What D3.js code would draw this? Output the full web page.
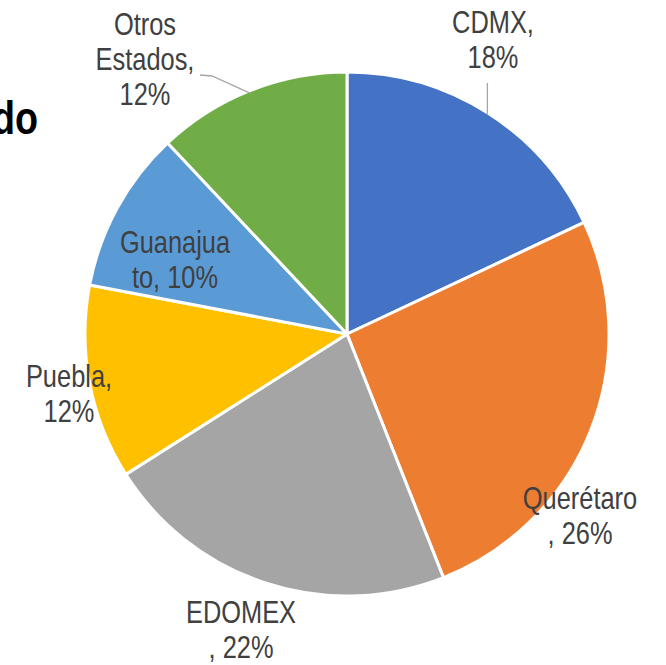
<!DOCTYPE html>
<html>
<head>
<meta charset="utf-8">
<script src="https://cdn.jsdelivr.net/npm/d3@7"></script>
<style>
  body { margin: 0; background: #fff; }
  text { font-family: "Liberation Sans", Arial, sans-serif; }
</style>
</head>
<body>
<div id="chart"></div>
<script>
// share by state (%)
var states = ["CDMX", "Querétaro", "EDOMEX", "Puebla", "Guanajuato", "Otros Estados"];
var shares = [18, 26, 22, 12, 10, 12];
var colors = ["#4472C4", "#ED7D31", "#A5A5A5", "#FFC000", "#5B9BD5", "#70AD47"];
// label text as wrapped in the original
var labelLines = [
    ["CDMX,", "18%"],
    ["Querétaro", ", 26%"],
    ["EDOMEX", ", 22%"],
    ["Puebla,", "12%"],
    ["Guanajua", "to, 10%"],
    ["Otros", "Estados,", "12%"]
];

var width = 666, height = 665;
var cx = 347, cy = 334, radius = 262;
var narrow = 0.82; // squeeze Liberation Sans to look like Arial Narrow

// label anchor (center x, first baseline y) relative to pie center
var labelPos = [[146, -301], [233, 175], [-106, 289], [-278, 53], [-172, -81], [-202, -299]];

var svg = d3.select("#chart").append("svg")
    .attr("width", width)
    .attr("height", height);

// cut off title on the left
svg.append("g")
    .attr("transform", "translate(38,134) scale(" + narrow + ",1)")
    .append("text")
    .attr("text-anchor", "end")
    .style("font-weight", "bold")
    .style("font-size", "46px")
    .attr("fill", "#000")
    .text("do");

var pie = d3.pie().sort(null).value(function(d) { return d; });
var arc = d3.arc().innerRadius(0).outerRadius(radius);

var g = svg.append("g")
    .attr("transform", "translate(" + cx + "," + cy + ")");

var arcs = pie(shares);

g.selectAll("path.slice")
    .data(arcs)
    .enter().append("path")
    .attr("class", "slice")
    .attr("d", arc)
    .attr("fill", function(d, i) { return colors[i]; })
    .attr("stroke", "#fff")
    .attr("stroke-width", 3)
    .attr("stroke-linejoin", "round");

// leader lines for CDMX and Otros Estados
function edgePoint(d) {
    var a = (d.startAngle + d.endAngle) / 2;
    return [radius * Math.sin(a), -radius * Math.cos(a)];
}
var cdmxEnd = edgePoint(arcs[0]);
g.append("path")
    .attr("d", d3.line()([[cdmxEnd[0], -251], [cdmxEnd[0], cdmxEnd[1] + 2]]))
    .attr("fill", "none")
    .attr("stroke", "#A6A6A6")
    .attr("stroke-width", 1.3);

var otrosEnd = edgePoint(arcs[5]);
g.append("path")
    .attr("d", d3.line()([[-147, -259], [-135, -258], [otrosEnd[0], otrosEnd[1] + 3]]))
    .attr("fill", "none")
    .attr("stroke", "#A6A6A6")
    .attr("stroke-width", 1.3);

var labels = g.selectAll("g.lbl")
    .data(labelLines)
    .enter().append("g")
    .attr("class", "lbl")
    .attr("transform", function(d, i) {
        return "translate(" + labelPos[i][0] + "," + labelPos[i][1] + ") scale(" + narrow + ",1)";
    })
    .append("text")
    .attr("text-anchor", "middle")
    .attr("fill", "#404040")
    .style("font-size", "31px");

labels.each(function(lines) {
    var t = d3.select(this);
    lines.forEach(function(line, j) {
        t.append("tspan")
            .attr("x", 0)
            .attr("dy", j === 0 ? 0 : 35)
            .text(line);
    });
});
</script>
</body>
</html>
